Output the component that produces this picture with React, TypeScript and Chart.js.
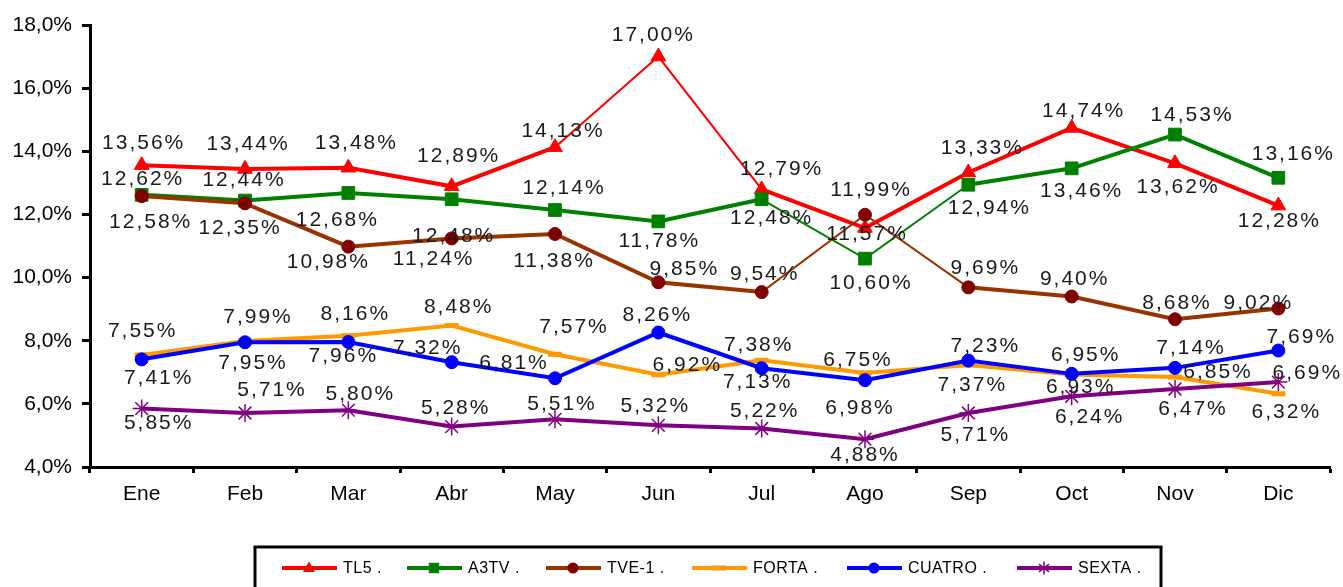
import { useEffect, useRef } from 'react';
import { Chart, registerables } from 'chart.js';

Chart.register(...registerables);

const months = ['Ene', 'Feb', 'Mar', 'Abr', 'May', 'Jun', 'Jul', 'Ago', 'Sep', 'Oct', 'Nov', 'Dic'];
const seriesNames = ['TL5 .', 'A3TV .', 'TVE-1 .', 'FORTA .', 'CUATRO .', 'SEXTA .'];
const tl5 = [13.56, 13.44, 13.48, 12.89, 14.13, 17.0, 12.79, 11.57, 13.33, 14.74, 13.62, 12.28];
const a3tv = [12.62, 12.44, 12.68, 12.48, 12.14, 11.78, 12.48, 10.6, 12.94, 13.46, 14.53, 13.16];
const tve1 = [12.58, 12.35, 10.98, 11.24, 11.38, 9.85, 9.54, 11.99, 9.69, 9.4, 8.68, 9.02];
const forta = [7.55, 7.99, 8.16, 8.48, 7.57, 6.92, 7.38, 6.98, 7.23, 6.93, 6.85, 6.32];
const cuatro = [7.41, 7.95, 7.96, 7.32, 6.81, 8.26, 7.13, 6.75, 7.37, 6.95, 7.14, 7.69];
const sexta = [5.85, 5.71, 5.8, 5.28, 5.51, 5.32, 5.22, 4.88, 5.71, 6.24, 6.47, 6.69];
const yMin = 4;
const yMax = 18;
const yStep = 2;

// label placement (offsets from each point, in px) — layout only
const labelOffsets: number[][][] = [
  [[1, -23], [2, -26], [7, -25], [6, -31], [7, -17], [-6, -22], [19, -21], [1, 5], [13, -25], [11, -18], [2, 23], [0, 15]],
  [[0, -17], [-2, -21], [-12, 26], [1, 36], [8, -23], [0, 19], [9, 18], [5, 24], [20, 22], [9, 22], [16, -20], [14, -25]],
  [[8, 25], [-6, 24], [-21, 15], [-19, 20], [-2, 26], [25, -14], [2, -19], [5, -26], [16, -20], [2, -18], [1, -17], [-21, -6]],
  [[0, -25], [12, -25], [6, -22], [6, -19], [18, -28], [28, -11], [-4, -16], [-6, 34], [16, -20], [8, 12], [42, -6], [7, 17]],
  [[16, 18], [7, 20], [-6, 13], [-25, -15], [-42, -16], [-2, -18], [-5, 13], [-8, -21], [3, 24], [13, -20], [15, -21], [22, -14]],
  [[16, 14], [26, -24], [11, -17], [3, -19], [6, -16], [-4, -20], [2, -18], [-1, 15], [6, 21], [17, 20], [17, 19], [28, -10]],
];

const FONT = '"Liberation Sans", Arial, sans-serif';

const fmtPct = (v: number, d: number) => v.toFixed(d).replace('.', ',') + '%';

const segWidth = (ctx: any) => {
  const dx = ctx.p1.x - ctx.p0.x;
  const dy = Math.abs(ctx.p1.y - ctx.p0.y);
  const ang = (Math.atan2(dy, dx) * 180) / Math.PI;
  return ang > 29 ? 2 : 4;
};

type Style = { line: string; marker: string; shape: string };
const styles: Style[] = [
  { line: '#FF0000', marker: '#FF0000', shape: 'triangle' },
  { line: '#008000', marker: '#008000', shape: 'rect' },
  { line: '#993300', marker: '#800000', shape: 'circle' },
  { line: '#FF9900', marker: '#FF9900', shape: 'line' },
  { line: '#0000FF', marker: '#0000FF', shape: 'circle' },
  { line: '#800080', marker: '#800080', shape: 'star' },
];

function drawMarker(ctx: CanvasRenderingContext2D, shape: string, x: number, y: number, r: number, color: string) {
  ctx.save();
  ctx.fillStyle = color;
  ctx.strokeStyle = color;
  ctx.beginPath();
  if (shape === 'triangle') {
    ctx.moveTo(x, y - r);
    ctx.lineTo(x + r * 0.95, y + r * 0.6);
    ctx.lineTo(x - r * 0.95, y + r * 0.6);
    ctx.closePath();
    ctx.fill();
  } else if (shape === 'rect') {
    ctx.rect(x - r * 0.8, y - r * 0.8, r * 1.6, r * 1.6);
    ctx.fill();
  } else if (shape === 'circle') {
    ctx.arc(x, y, r * 0.85, 0, Math.PI * 2);
    ctx.fill();
  } else if (shape === 'line') {
    ctx.lineWidth = 5;
    ctx.moveTo(x - r, y);
    ctx.lineTo(x + r, y);
    ctx.stroke();
  } else if (shape === 'star') {
    ctx.lineWidth = 1.5;
    ctx.moveTo(x, y - r);
    ctx.lineTo(x, y + r);
    ctx.moveTo(x - r * 0.8, y - r * 0.6);
    ctx.lineTo(x + r * 0.8, y + r * 0.6);
    ctx.moveTo(x - r * 0.8, y + r * 0.6);
    ctx.lineTo(x + r * 0.8, y - r * 0.6);
    ctx.stroke();
  }
  ctx.restore();
}

const labelPlugin = {
  id: 'valueLabels',
  afterDatasetsDraw(chart: any) {
    const ctx: CanvasRenderingContext2D = chart.ctx;
    ctx.save();
    ctx.font = `21px ${FONT}`;
    (ctx as any).letterSpacing = '2px';
    ctx.fillStyle = '#1a1a1a';
    ctx.textAlign = 'center';
    ctx.textBaseline = 'middle';
    chart.data.datasets.forEach((ds: any, di: number) => {
      const meta = chart.getDatasetMeta(di);
      meta.data.forEach((pt: any, i: number) => {
        const off = labelOffsets[di][i];
        ctx.fillText(fmtPct(ds.data[i], 2), pt.x + off[0] + 1, pt.y + off[1] + 1);
      });
    });
    ctx.restore();
  },
};

const legendPlugin = {
  id: 'boxLegend',
  afterDraw(chart: any) {
    const ctx: CanvasRenderingContext2D = chart.ctx;
    ctx.save();
    ctx.strokeStyle = '#000';
    ctx.lineWidth = 3;
    ctx.strokeRect(255, 547, 906, 80);
    const starts = [282, 407, 546, 692, 847, 1017];
    const y = 568;
    ctx.font = `16px ${FONT}`;
    (ctx as any).letterSpacing = '0.5px';
    ctx.textBaseline = 'middle';
    ctx.textAlign = 'left';
    styles.forEach((s, i) => {
      const x0 = starts[i];
      ctx.strokeStyle = s.line;
      ctx.lineWidth = 4;
      ctx.beginPath();
      ctx.moveTo(x0, y);
      ctx.lineTo(x0 + 55, y);
      ctx.stroke();
      drawMarker(ctx, s.shape, x0 + 27, y, s.shape === 'line' ? 7 : 6.5, s.marker);
      ctx.fillStyle = '#000';
      ctx.fillText(seriesNames[i], x0 + 61, y + 1);
    });
    ctx.restore();
  },
};

const radii = [8.5, 9, 6.5, 7, 6.5, 9];
const pointBorder = [1, 1, 1, 5, 1, 1.5];
const seriesData = [tl5, a3tv, tve1, forta, cuatro, sexta];

export default function App() {
  const ref = useRef<HTMLCanvasElement | null>(null);

  useEffect(() => {
    document.body.style.margin = '0';
    if (!ref.current) return;
    const chart = new Chart(ref.current, {
      type: 'line',
      data: {
        labels: months,
        datasets: seriesData.map((d, i) => ({
          label: seriesNames[i],
          data: d,
          borderColor: styles[i].line,
          backgroundColor: styles[i].marker,
          borderWidth: 4,
          segment: { borderWidth: segWidth },
          pointStyle: styles[i].shape as any,
          pointRadius: radii[i],
          pointBackgroundColor: styles[i].marker,
          pointBorderColor: styles[i].marker,
          pointBorderWidth: pointBorder[i],
          tension: 0,
          fill: false,
          order: 5 - i,
        })),
      },
      options: {
        responsive: false,
        animation: false,
        layout: { padding: { left: 0, top: 25, right: 13, bottom: 80 } },
        plugins: { legend: { display: false }, tooltip: { enabled: false } },
        scales: {
          x: {
            type: 'category',
            offset: true,
            grid: {
              offset: true,
              drawOnChartArea: false,
              drawTicks: true,
              tickLength: 6,
              tickWidth: 3,
              tickColor: '#000',
            },
            border: { display: true, color: '#000', width: 3 },
            ticks: { color: '#000', font: { size: 21, family: FONT }, padding: 9, maxRotation: 0 },
            afterFit: (scale: any) => {
              scale.height = 40;
            },
          },
          y: {
            min: yMin,
            max: yMax,
            ticks: {
              stepSize: yStep,
              color: '#000',
              font: { size: 21, family: FONT },
              padding: 10,
              callback: (v: any) => fmtPct(Number(v), 1),
            },
            grid: {
              drawOnChartArea: false,
              drawTicks: true,
              tickLength: 8,
              tickWidth: 3,
              tickColor: '#000',
            },
            border: { display: true, color: '#000', width: 3 },
            afterFit: (scale: any) => {
              scale.width = 90;
            },
          },
        },
      },
      plugins: [labelPlugin, legendPlugin],
    });
    return () => chart.destroy();
  }, []);

  return (
    <div style={{ position: 'fixed', left: 0, top: 0, width: 1343, height: 587, background: '#fff' }}>
      <canvas ref={ref} width={1343} height={587} />
    </div>
  );
}
